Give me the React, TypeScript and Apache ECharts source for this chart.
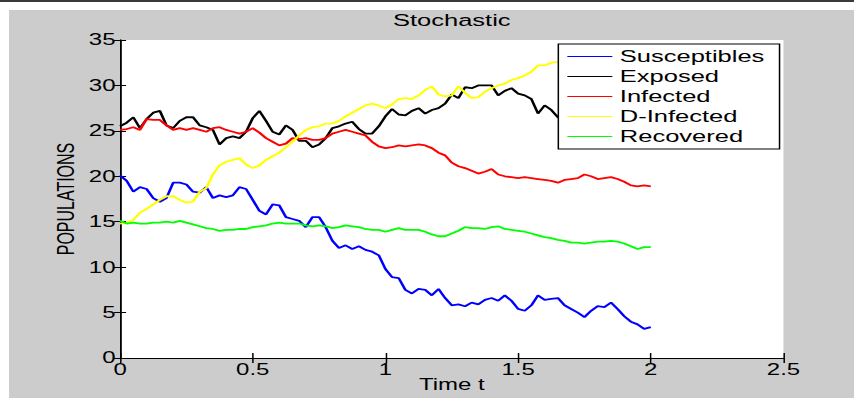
import React, { useEffect, useRef } from "react";
import * as echarts from "echarts";

const TIMES = [
  0, 0.025, 0.05, 0.075, 0.1, 0.125, 0.15, 0.175, 0.2, 0.225,
  0.25, 0.275, 0.3, 0.325, 0.35, 0.375, 0.4, 0.425, 0.45, 0.475,
  0.5, 0.525, 0.55, 0.575, 0.6, 0.625, 0.65, 0.675, 0.7, 0.725,
  0.75, 0.775, 0.8, 0.825, 0.85, 0.875, 0.9, 0.925, 0.95, 0.975,
  1.0, 1.025, 1.05, 1.075, 1.1, 1.125, 1.15, 1.175, 1.2, 1.225,
  1.25, 1.275, 1.3, 1.325, 1.35, 1.375, 1.4, 1.425, 1.45, 1.475,
  1.5, 1.525, 1.55, 1.575, 1.6, 1.625, 1.65, 1.675, 1.7, 1.725,
  1.75, 1.775, 1.8, 1.825, 1.85, 1.875, 1.9, 1.925, 1.95, 1.975,
  2.0,
];

const SUSCEPTIBLES = [
  20.1, 19.5, 18.3, 18.8, 18.6, 17.6, 17.2, 17.6, 19.3, 19.3,
  19.1, 18.3, 18.2, 18.8, 17.6, 17.9, 17.7, 17.9, 18.8, 18.6,
  17.4, 16.2, 15.8, 16.9, 16.8, 15.5, 15.3, 15.1, 14.4, 15.5,
  15.5, 14.4, 12.9, 12.1, 12.4, 12.0, 12.3, 11.9, 11.7, 11.3,
  9.8, 8.9, 8.8, 7.5, 7.1, 7.6, 7.5, 6.9, 7.6, 6.6,
  5.8, 5.9, 5.7, 6.1, 5.9, 6.4, 6.6, 6.3, 6.9, 6.3,
  5.4, 5.2, 5.8, 6.9, 6.4, 6.5, 6.6, 5.8, 5.4, 5.0,
  4.5, 5.2, 5.7, 5.6, 6.1, 5.4, 4.6, 4.0, 3.7, 3.2,
  3.4,
];

const EXPOSED = [
  25.5, 25.9, 26.5, 25.3, 26.3, 27.0, 27.2, 25.6, 25.3, 26.1,
  26.5, 26.5, 25.6, 25.4, 25.1, 23.5, 24.2, 24.4, 24.2, 24.9,
  26.4, 27.2, 26.1, 24.9, 24.6, 25.6, 25.1, 23.9, 23.9, 23.2,
  23.5, 24.2, 25.3, 25.5, 25.8, 26.0, 25.2, 24.7, 24.7, 25.5,
  26.6, 27.4, 26.8, 26.7, 27.2, 27.5, 26.9, 27.3, 27.5, 28.0,
  29.0, 28.6, 29.8, 29.7, 30.0, 30.0, 30.0, 28.9, 29.4, 29.7,
  29.1, 28.9, 28.5, 26.9, 27.8, 27.3, 26.5, 26.2, 26.8, 26.4,
  25.9, 26.3, 26.7, 26.1, 25.7, 26.0, 25.6, 25.9, 25.4, 25.8,
  25.5,
];

const INFECTED = [
  25.1, 25.2, 25.4, 25.1, 26.3, 26.2, 26.2, 25.6, 25.1, 25.3,
  25.1, 25.3, 25.1, 24.9, 25.3, 25.4, 25.1, 24.9, 24.7, 24.9,
  25.3, 24.8, 24.2, 23.8, 23.4, 23.6, 24.2, 24.1, 24.2, 24.0,
  24.0, 24.2, 24.7, 24.9, 25.1, 24.9, 24.7, 24.5, 23.8, 23.3,
  23.1, 23.2, 23.4, 23.3, 23.4, 23.5, 23.4, 23.1, 22.6, 22.3,
  21.5, 21.1, 20.9, 20.6, 20.3, 20.5, 20.8, 20.2, 20.0, 19.9,
  19.8, 19.9, 19.8, 19.7, 19.6, 19.5, 19.3, 19.6, 19.7, 19.8,
  20.2, 20.0, 19.7, 19.8, 19.9, 19.7, 19.4, 19.0, 18.9, 19.0,
  18.9,
];

const D_INFECTED = [
  14.8, 14.9, 15.2, 16.0, 16.4, 16.9, 17.4, 17.8, 17.8, 17.4,
  17.1, 17.2, 18.3, 18.7, 20.2, 21.2, 21.6, 21.8, 22.0, 21.3,
  20.9, 21.2, 21.8, 22.2, 22.6, 23.2, 23.8, 24.5, 25.1, 25.4,
  25.5, 25.8, 25.8, 26.1, 26.6, 27.0, 27.4, 27.8, 28.0, 27.8,
  27.5, 27.9, 28.5, 28.6, 28.5, 28.9, 29.5, 29.9, 29.0, 28.8,
  28.9, 29.9, 29.2, 28.6, 28.7, 29.3, 29.7, 30.0, 30.2, 30.6,
  30.8, 31.1, 31.5, 32.2, 32.2, 32.5, 32.6, 32.9, 33.2, 32.8,
  33.4, 33.0, 33.6, 33.3, 33.8, 33.5, 33.1, 33.7, 34.0, 33.6,
  33.9,
];

const RECOVERED = [
  15.1, 14.8, 14.9, 14.8, 14.8, 14.9, 14.9, 15.0, 14.9, 15.1,
  14.9, 14.7, 14.5, 14.3, 14.2, 14.0, 14.1, 14.1, 14.2, 14.2,
  14.4, 14.5, 14.6, 14.8, 14.9, 14.8, 14.8, 14.8, 14.6, 14.5,
  14.6, 14.5, 14.3, 14.4, 14.6, 14.5, 14.4, 14.2, 14.1, 14.1,
  13.9, 14.1, 14.3, 14.1, 14.1, 14.1, 13.9, 13.6, 13.4, 13.4,
  13.7, 14.0, 14.4, 14.3, 14.3, 14.2, 14.4, 14.5, 14.2, 14.1,
  14.0, 13.9, 13.7, 13.5, 13.3, 13.2, 13.0, 12.9, 12.7, 12.7,
  12.6, 12.7, 12.8, 12.8, 12.9, 12.8, 12.6, 12.3, 12.0, 12.2,
  12.2,
];

const SERIES_NAMES = ["Susceptibles", "Exposed", "Infected", "D-Infected", "Recovered"];
const SERIES_VALUES = [SUSCEPTIBLES, EXPOSED, INFECTED, D_INFECTED, RECOVERED];
const SERIES_COLORS = ["#0000ff", "#000000", "#ff0000", "#ffff00", "#00ff00"];

const TITLE = "Stochastic";
const X_NAME = "Time t";
const Y_NAME = "POPULATIONS";

const FONT = "'Liberation Sans', Arial, Helvetica, sans-serif";
const CHART_W = 563;
const SCALE_X = 845 / CHART_W;

export default function App() {
  const ref = useRef<HTMLDivElement>(null);

  useEffect(() => {
    if (!ref.current) return;
    const chart = echarts.init(ref.current, null, { renderer: "svg" });

    const axisLine = { show: true, lineStyle: { color: "#000", width: 1 } };
    const tickStyle = { color: "#000", width: 1 };

    const option: any = {
      animation: false,
      backgroundColor: "#cccccc",
      textStyle: { fontFamily: FONT },
      title: {
        text: TITLE,
        left: 295,
        top: 2,
        textAlign: "center",
        padding: 0,
        textStyle: { fontSize: 17, fontWeight: "normal", color: "#000", fontFamily: FONT },
      },
      legend: {
        orient: "vertical",
        left: 366,
        top: 34,
        padding: [4, 10, 4, 6],
        itemGap: 3,
        itemWidth: 30,
        itemHeight: 14,
        icon: "path://M0,0 L30,0 L30,1 L0,1 Z",
        backgroundColor: "#ffffff",
        borderColor: "#000",
        borderWidth: 1,
        borderRadius: 0,
        z: 10,
        textStyle: { fontSize: 17, color: "#000", lineHeight: 17, fontFamily: FONT },
        data: SERIES_NAMES,
      },
      grid: {
        left: 74,
        right: 47,
        top: 30,
        bottom: 40,
        containLabel: false,
        outerBoundsMode: "none",
        show: true,
        backgroundColor: "#ffffff",
        borderWidth: 0,
      },
      xAxis: [
        {
          type: "value",
          position: "bottom",
          min: 0,
          max: 2.5,
          interval: 0.5,
          name: X_NAME,
          nameLocation: "middle",
          nameGap: 19,
          nameMoveOverlap: false,
          nameTextStyle: { fontSize: 16, color: "#000", fontFamily: FONT },
          axisLine,
          axisTick: { show: true, inside: true, length: 5, lineStyle: tickStyle },
          axisLabel: { fontSize: 16, color: "#000", margin: 4, fontFamily: FONT },
          splitLine: { show: false },
        },
        {
          type: "value",
          position: "top",
          min: 0,
          max: 2.5,
          interval: 0.5,
          axisLine,
          axisTick: { show: true, inside: true, length: 5, lineStyle: tickStyle },
          axisLabel: { show: false },
          splitLine: { show: false },
        },
      ],
      yAxis: [
        {
          type: "value",
          position: "left",
          min: 0,
          max: 35,
          interval: 5,
          name: Y_NAME,
          nameLocation: "middle",
          nameGap: 28,
          nameMoveOverlap: false,
          nameTextStyle: { fontSize: 16, color: "#000", fontFamily: FONT },
          axisLine,
          axisTick: { show: true, inside: true, length: 4, lineStyle: tickStyle },
          axisLabel: { fontSize: 16, color: "#000", margin: 3, fontFamily: FONT },
          splitLine: { show: false },
        },
        {
          type: "value",
          position: "right",
          min: 0,
          max: 35,
          interval: 5,
          axisLine,
          axisTick: { show: true, inside: true, length: 4, lineStyle: tickStyle },
          axisLabel: { show: false },
          splitLine: { show: false },
        },
      ],
      series: SERIES_NAMES.map((name, k) => ({
        name,
        type: "line",
        xAxisIndex: 0,
        yAxisIndex: 0,
        symbol: "none",
        showSymbol: false,
        smooth: false,
        data: TIMES.map((t, i) => [t, SERIES_VALUES[k][i]]),
        lineStyle: { color: SERIES_COLORS[k], width: 1.8 },
        itemStyle: { color: SERIES_COLORS[k] },
        z: 2,
      })),
    };

    chart.setOption(option);
    return () => chart.dispose();
  }, []);

  return (
    <div
      style={{
        position: "fixed",
        left: 0,
        top: 0,
        width: 854,
        height: 398,
        background: "#ffffff",
        overflow: "hidden",
      }}
    >
      <div
        style={{
          position: "absolute",
          left: 0,
          top: 0,
          width: 854,
          height: 2,
          background: "#3a3a3a",
        }}
      />
      <div
        ref={ref}
        style={{
          position: "absolute",
          left: 9,
          top: 10,
          width: CHART_W,
          height: 388,
          transform: `scaleX(${SCALE_X})`,
          transformOrigin: "0 0",
        }}
      />
    </div>
  );
}
